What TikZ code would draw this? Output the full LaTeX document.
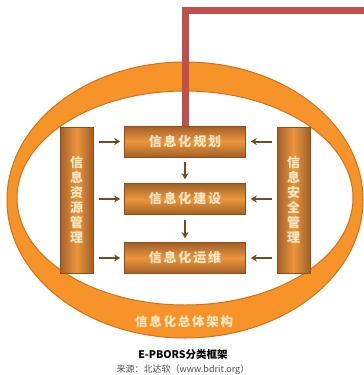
\documentclass[tikz,border=0pt]{standalone}
\usepackage{fontspec}
\newfontfamily\cjk{Noto Sans CJK SC}
\newfontfamily\cjkwide[LetterSpace=14]{Noto Sans CJK SC}
\usetikzlibrary{arrows.meta}
\definecolor{ringorange}{RGB}{246,148,42}
\definecolor{ringedge}{RGB}{214,112,24}
\definecolor{boxdark}{RGB}{150,78,18}
\definecolor{boxlight}{RGB}{236,150,60}
\definecolor{arrowbrown}{RGB}{120,74,34}
\definecolor{cream}{RGB}{252,232,200}
\definecolor{linered}{RGB}{192,80,77}
\begin{document}
\begin{tikzpicture}
        [x=1pt,y=-1pt,
        hbox/.style={draw=boxdark,line width=0.6pt,minimum width=121pt,minimum height=31pt,
          top color=boxdark!90,bottom color=boxdark!90,middle color=boxlight,
          text=cream,font=\cjkwide\bfseries\fontsize{13}{15}\selectfont},
        vbox/.style={draw=boxdark,line width=0.6pt,minimum width=33pt,minimum height=146pt,
          left color=boxdark!90,right color=boxdark!90,middle color=boxlight,
          text=cream,align=center,font=\cjk\bfseries\fontsize{13}{15}\selectfont},
        arr/.style={-{Stealth[length=6pt,width=7pt]},line width=2pt,draw=arrowbrown},
        redline/.style={draw=linered,line width=7pt}]
        \useasboundingbox (0,0) rectangle (364,375);
        % ring
        \fill[ringorange,even odd rule] (185,200) ellipse [x radius=178,y radius=138]
          (185,198) ellipse [x radius=168,y radius=107];
        \draw[ringedge,line width=1pt] (185,200) ellipse [x radius=178,y radius=138];
        \draw[ringedge,line width=1pt] (185,198) ellipse [x radius=168,y radius=107];
        \node (whole) at (184,322) [text=cream,font=\cjkwide\bfseries\fontsize{12.5}{14}\selectfont] {信息化总体架构};
        % boxes
        \node (plan) at (185,141.5) [hbox] {信息化规划};
        \node (build) at (185,199) [hbox] {信息化建设};
        \node (ops) at (185,258) [hbox] {信息化运维};
        \node (res) at (76.5,200) [vbox] {信\\息\\资\\源\\管\\理};
        \node (sec) at (293.5,200) [vbox] {信\\息\\安\\全\\管\\理};
        % arrows
        \foreach \n in {plan,build,ops}{
          \draw[arr,shorten <=6pt,shorten >=4pt] (res.east |- \n.west) -- (\n.west);
          \draw[arr,shorten <=5pt,shorten >=5pt] (sec.west |- \n.east) -- (\n.east);
        }
        \draw[arr,shorten <=5pt,shorten >=4pt] (plan.south) -- (build.north);
        \draw[arr,shorten <=5pt,shorten >=4pt] (build.south) -- (ops.north);
        % red marker
        \coordinate (corner) at (185,10);
        \coordinate (edge) at (364,10);
        \draw[redline] (plan.north) -- (corner) -- (edge);
        % caption
        \node (title) at (183,355) [font=\cjk\bfseries\fontsize{10.5}{12}\selectfont] {E-PBORS分类框架};
        \node (src) at (183,370) [text=black!70,font=\cjk\fontsize{9}{10}\selectfont] {来源：北达软（www.bdrit.org）};
     \end{tikzpicture}
\end{document}
